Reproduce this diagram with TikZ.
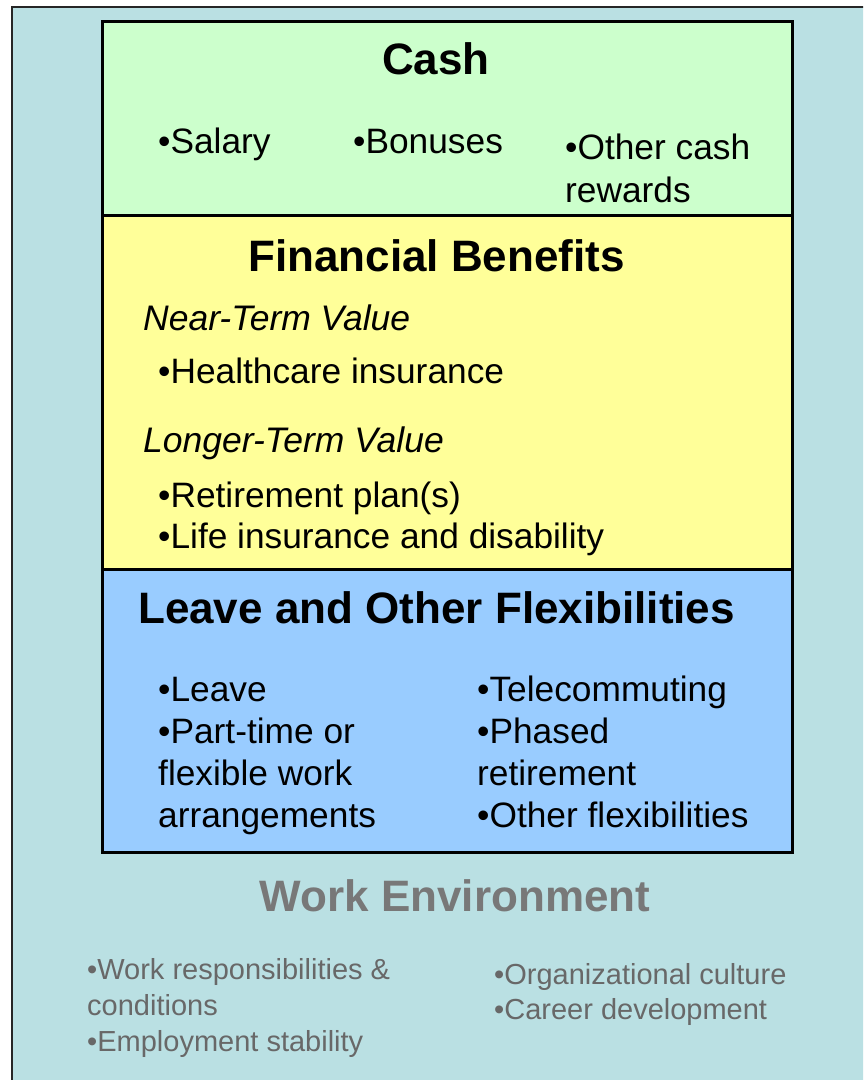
\documentclass[tikz,border=0pt]{standalone}
\usepackage{fontspec}
\setmainfont{Liberation Sans}
\definecolor{panelteal}{RGB}{186,224,227}
\definecolor{cashgreen}{RGB}{204,255,204}
\definecolor{benefityellow}{RGB}{255,255,153}
\definecolor{leaveblue}{RGB}{153,204,255}
\definecolor{headgray}{RGB}{120,120,120}
\definecolor{itemgray}{RGB}{104,104,104}
% several lines set in a box whose baseline is that of the first line
\newcommand{\stacklines}[1]{\begin{tabular}[t]{@{}l@{}}#1\end{tabular}}
\begin{document}
\begin{tikzpicture}[x=1pt,y=-1pt,
  frame/.style={draw=black!85, line width=2pt, fill=panelteal},
  band/.style={draw=black, line width=2.5pt, minimum width=690pt, anchor=north west, inner sep=0pt},
  title/.style={anchor=base, inner sep=0pt, font=\fontsize{44}{50}\selectfont\bfseries},
  item/.style={anchor=base west, inner sep=0pt, font=\fontsize{35.3}{42}\selectfont},
  subhead/.style={item, font=\fontsize{35.5}{42}\selectfont\itshape},
  envtitle/.style={title, text=headgray},
  envitem/.style={anchor=base west, inner sep=0pt, text=itemgray, font=\fontsize{29}{36}\selectfont}]
\useasboundingbox (0,0) rectangle (863,1080);
\clip (0,0) rectangle (863,1080);
\fill[white] (0,0) rectangle (863,1080);
% outer panel, running past the right and bottom edges
\draw[frame] (12,7) rectangle (890,1110);

% the three stacked bands
\node[band, fill=cashgreen, minimum height=194pt] (cash) at (101,20) {};
\node[band, fill=benefityellow, minimum height=354pt] (benefits) at (101,214) {};
\node[band, fill=leaveblue, minimum height=283pt] (leave) at (101,568) {};

% Cash
\node[title] (cashtitle) at (436,74) {Cash};
\node[item] (salary) at (158,153) {•Salary};
\node[item] (bonuses) at (353,153) {•Bonuses};
\node[item, font=\fontsize{35.3}{43}\selectfont] (othercash) at (565,159) {\stacklines{•Other cash\\rewards}};

% Financial Benefits
\node[title] (benefitstitle) at (436.5,271) {Financial Benefits};
\node[subhead] (nearterm) at (143,330) {Near-Term Value};
\node[item] (health) at (158,383) {•Healthcare insurance};
\node[subhead] (longerterm) at (143,452) {Longer-Term Value};
\node[item] (retire) at (158,507) {•Retirement plan(s)};
\node[item] (life) at (158,548) {•Life insurance and disability};

% Leave and Other Flexibilities
\node[title] (leavetitle) at (436.5,623) {Leave and Other Flexibilities};
\node[item] (leaveleft) at (158,701) {\stacklines{•Leave\\•Part-time or\\flexible work\\arrangements}};
\node[item] (leaveright) at (477,701) {\stacklines{•Telecommuting\\•Phased\\retirement\\•Other flexibilities}};

% Work Environment
\node[envtitle] (envtitle) at (455,911) {Work Environment};
\node[envitem] (envleft) at (87,979) {\stacklines{•Work responsibilities \&\\conditions\\•Employment stability}};
\node[envitem, font=\fontsize{29}{35}\selectfont] (envright) at (494,984) {\stacklines{•Organizational culture\\•Career development}};
\end{tikzpicture}
\end{document}
